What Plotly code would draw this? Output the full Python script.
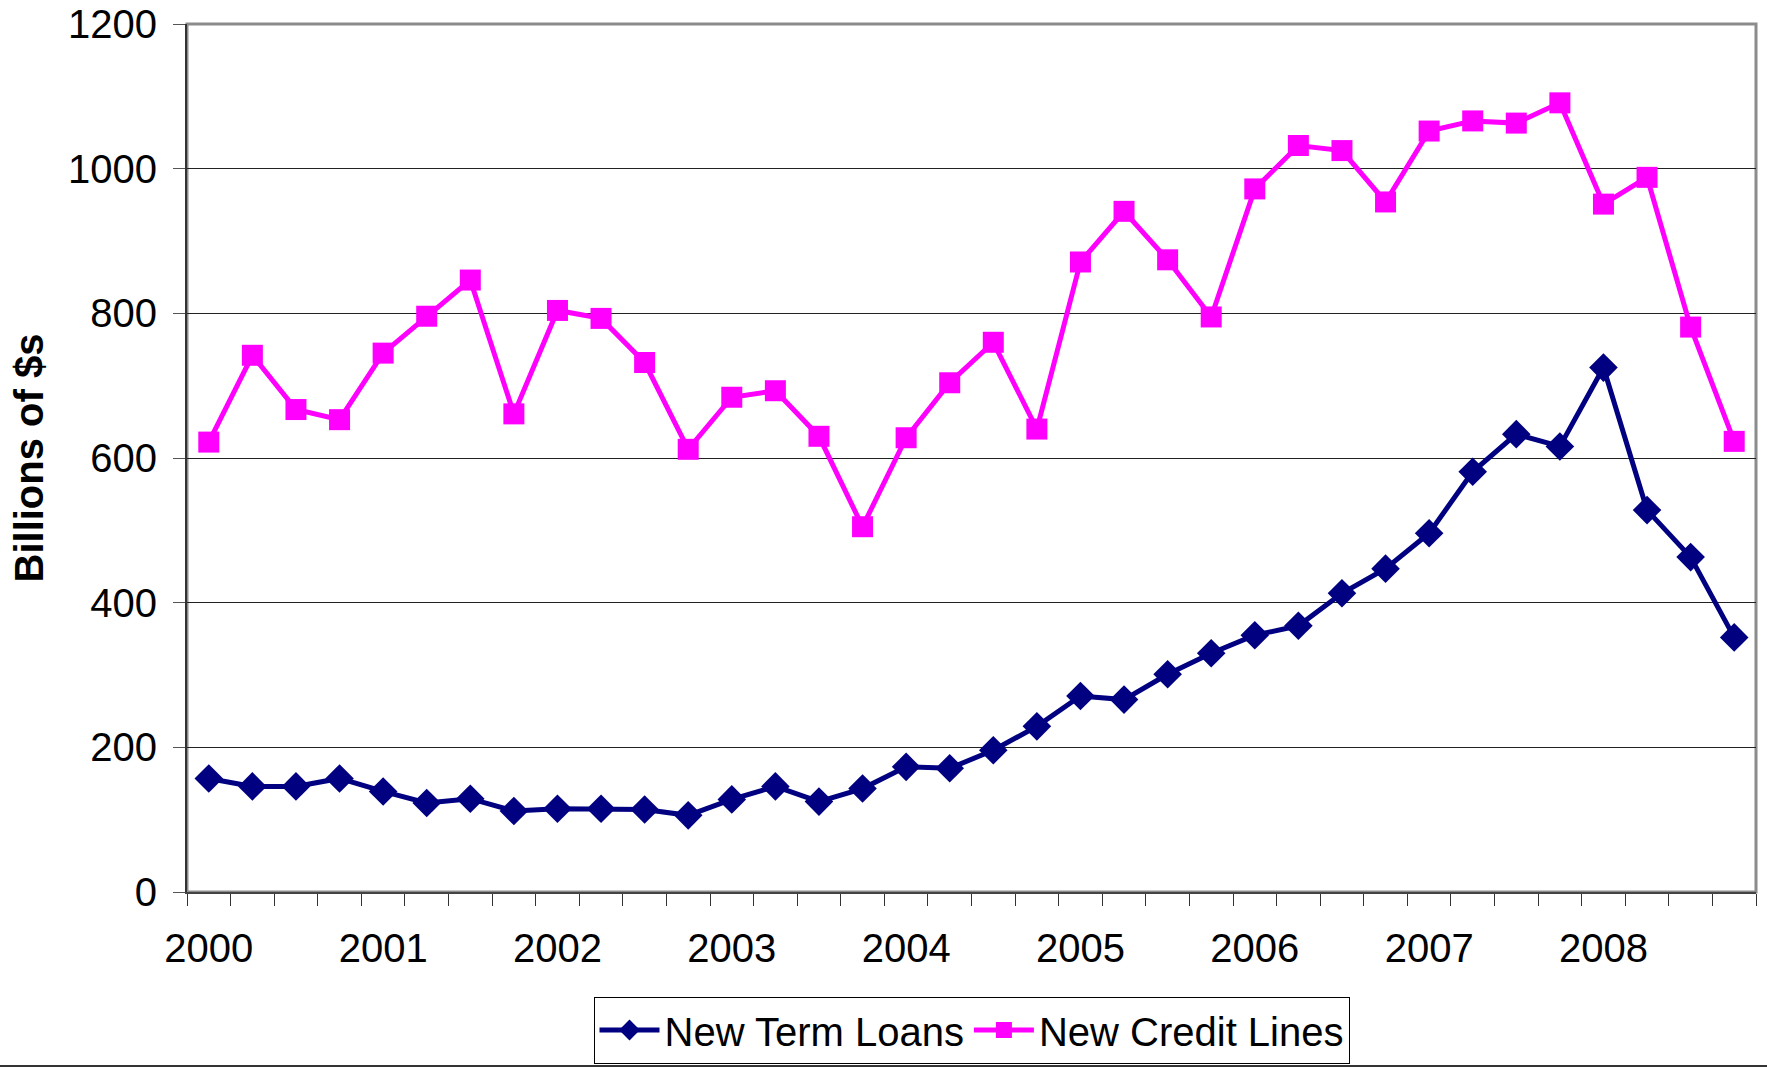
import plotly.graph_objects as go

years = ["2000", "2001", "2002", "2003", "2004", "2005", "2006", "2007", "2008"]
quarters = [f"{y}Q{q}" for y in years for q in range(1, 5)]

term_loans = [157, 146, 146, 157, 139, 123, 129, 112, 115, 115, 114, 106,
              128, 146, 125, 143, 173, 171, 196, 229, 271, 266, 301, 330,
              355, 368, 413, 447, 496, 581, 633, 616, 725, 528, 463, 352]
credit_lines = [622, 742, 667, 653, 745, 796, 846, 661, 804, 793, 732, 612,
                684, 693, 630, 505, 628, 704, 760, 640, 871, 941, 874, 795,
                972, 1032, 1025, 954, 1052, 1066, 1063, 1091, 951, 988, 781, 623]

x_pos = list(range(len(quarters)))
year_pos = [x_pos[quarters.index(y + "Q1")] for y in years]

W, H = 1767, 1068
L, R, T, B = 187, 11, 24, 176
pw, ph = W - L - R, H - T - B

FONT = "Liberation Sans, Arial, sans-serif"

fig = go.Figure()
fig.add_trace(go.Scatter(
    x=x_pos, y=term_loans, name="New Term Loans", mode="lines+markers",
    line=dict(color="#000080", width=5),
    marker=dict(symbol="diamond", size=22, color="#000080"),
    hovertext=quarters,
))
fig.add_trace(go.Scatter(
    x=x_pos, y=credit_lines, name="New Credit Lines", mode="lines+markers",
    line=dict(color="#FF00FF", width=5),
    marker=dict(symbol="square", size=21, color="#FF00FF"),
    hovertext=quarters,
))

fig.update_layout(
    width=W, height=H,
    margin=dict(l=L, r=R, t=T, b=B, pad=0, autoexpand=False),
    paper_bgcolor="white", plot_bgcolor="white",
    font=dict(family=FONT, color="black", size=40),
    showlegend=True,
    legend=dict(
        orientation="h", x=0.5, y=(T + ph - 1030) / ph,
        xanchor="center", yanchor="middle",
        bordercolor="black", borderwidth=1,
        font=dict(size=40, family=FONT),
        itemwidth=60, tracegroupgap=0,
    ),
    xaxis=dict(
        range=[-0.5, len(quarters) - 0.5],
        tickmode="array", tickvals=year_pos, ticktext=years,
        ticks="", showgrid=False, zeroline=False,
        showline=True, linecolor="#444", linewidth=2,
        tickfont=dict(size=40, family=FONT),
        ticklabelstandoff=20,
        minor=dict(tickmode="linear", tick0=-0.5, dtick=1, ticks="outside",
                   ticklen=12, tickcolor="#333", tickwidth=1, showgrid=False),
    ),
    yaxis=dict(
        range=[0, 1200], tickmode="linear", tick0=0, dtick=200,
        ticks="outside", ticklen=12, tickcolor="#555", tickwidth=1,
        showgrid=True, gridcolor="#222", gridwidth=1,
        zeroline=False, showline=True, linecolor="#333", linewidth=2,
        tickfont=dict(size=40, family=FONT),
        ticklabelstandoff=8,
        title=dict(text="<b>Billions of $s</b>", font=dict(size=40, family=FONT),
                   standoff=12),
    ),
    shapes=[
        dict(type="rect", xref="paper", yref="paper", x0=0, x1=1, y0=0, y1=1,
             line=dict(color="#8c8c8c", width=3), layer="below"),
        dict(type="line", xref="paper", yref="paper",
             x0=-L / pw, x1=(W - L) / pw,
             y0=(T + ph - 1066) / ph, y1=(T + ph - 1066) / ph,
             line=dict(color="#333", width=2)),
    ],
)

fig.write_html("out.html")
